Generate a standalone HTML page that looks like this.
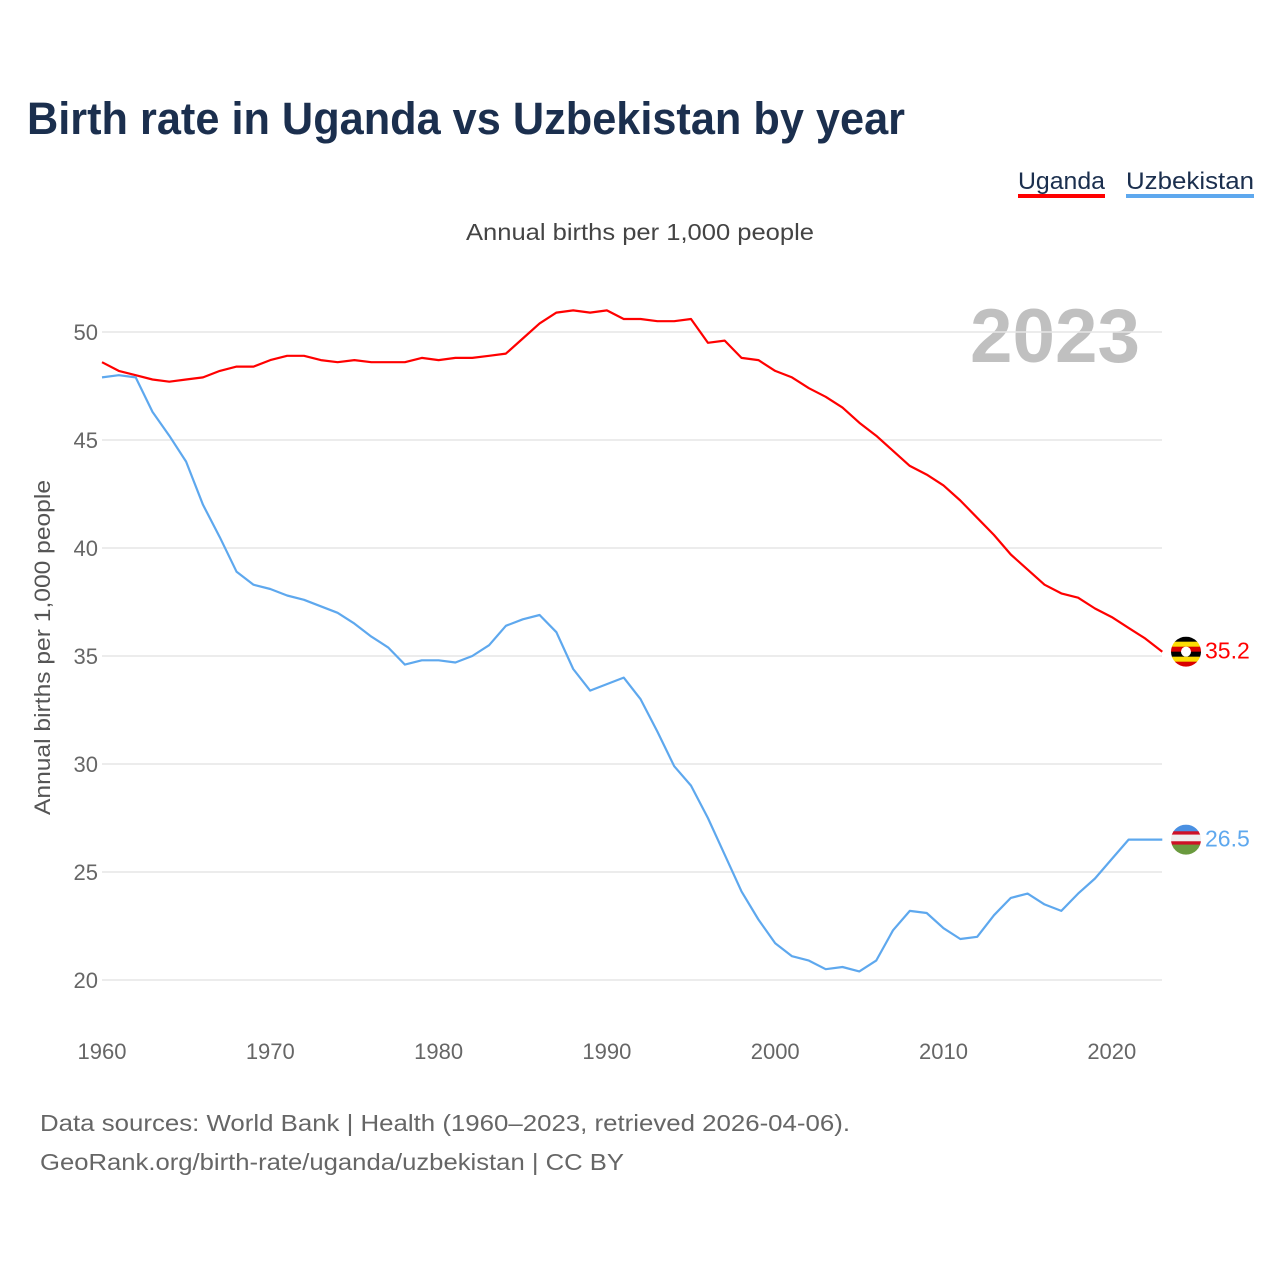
<!DOCTYPE html>
<html><head><meta charset="utf-8"><style>
body{margin:0;background:#fff;width:1280px;height:1280px;overflow:hidden;font-family:"Liberation Sans",sans-serif}
</style></head><body>
<svg id="chart" width="1280" height="1280" xmlns="http://www.w3.org/2000/svg">
<text x="27" y="134" font-size="45" font-weight="bold" fill="#1b2f4e" textLength="878" lengthAdjust="spacingAndGlyphs">Birth rate in Uganda vs Uzbekistan by year</text>
<g>
<text x="1018" y="189" font-size="24" fill="#1b2f4e" textLength="87" lengthAdjust="spacingAndGlyphs">Uganda</text>
<rect x="1018" y="194" width="87" height="4" fill="#ff0000"/>
<text x="1126" y="189" font-size="24" fill="#1b2f4e" textLength="128" lengthAdjust="spacingAndGlyphs">Uzbekistan</text>
<rect x="1126" y="194" width="128" height="4" fill="#5ea8ee"/>
</g>
<text x="466" y="240" font-size="23" fill="#444" textLength="348" lengthAdjust="spacingAndGlyphs">Annual births per 1,000 people</text>
<text x="1140" y="362" font-size="76" font-weight="bold" fill="#c0c0c0" text-anchor="end" textLength="170" lengthAdjust="spacingAndGlyphs">2023</text>
<text transform="translate(50,815) rotate(-90)" font-size="22" fill="#555" textLength="335" lengthAdjust="spacingAndGlyphs">Annual births per 1,000 people</text>
<g id="grid"></g><g id="yt"></g><g id="xt"></g><g id="lines"></g><g id="ends"></g>
<g font-size="23" fill="#666">
<text x="40" y="1131" textLength="810" lengthAdjust="spacingAndGlyphs">Data sources: World Bank | Health (1960–2023, retrieved 2026-04-06).</text>
<text x="40" y="1170" textLength="584" lengthAdjust="spacingAndGlyphs">GeoRank.org/birth-rate/uganda/uzbekistan | CC BY</text>
</g>
</svg>
<script>
const years=[];for(let y=1960;y<=2023;y++)years.push(y);
const uganda=[48.6,48.2,48.0,47.8,47.7,47.8,47.9,48.2,48.4,48.4,48.7,48.9,48.9,48.7,48.6,48.7,48.6,48.6,48.6,48.8,48.7,48.8,48.8,48.9,49.0,49.7,50.4,50.9,51.0,50.9,51.0,50.6,50.6,50.5,50.5,50.6,49.5,49.6,48.8,48.7,48.2,47.9,47.4,47.0,46.5,45.8,45.2,44.5,43.8,43.4,42.9,42.2,41.4,40.6,39.7,39.0,38.3,37.9,37.7,37.2,36.8,36.3,35.8,35.2];
const uzbekistan=[47.9,48.0,47.9,46.3,45.2,44.0,42.0,40.5,38.9,38.3,38.1,37.8,37.6,37.3,37.0,36.5,35.9,35.4,34.6,34.8,34.8,34.7,35.0,35.5,36.4,36.7,36.9,36.1,34.4,33.4,33.7,34.0,33.0,31.5,29.9,29.0,27.5,25.8,24.1,22.8,21.7,21.1,20.9,20.5,20.6,20.4,20.9,22.3,23.2,23.1,22.4,21.9,22.0,23.0,23.8,24.0,23.5,23.2,24.0,24.7,25.6,26.5,26.5,26.5];
const yTicks=[20,25,30,35,40,45,50];
const xTicks=[1960,1970,1980,1990,2000,2010,2020];
const NS="http://www.w3.org/2000/svg";
const X=y=>102+(y-1960)*16.83;
const Y=v=>980-(v-20)*21.6;
function mk(t,a,p){const e=document.createElementNS(NS,t);for(const k in a)e.setAttribute(k,a[k]);p.appendChild(e);return e;}
const grid=document.getElementById('grid'),yt=document.getElementById('yt'),xt=document.getElementById('xt');
yTicks.forEach(v=>{
 const l=mk('line',{x1:102,x2:1162,y1:Y(v),y2:Y(v),stroke:'#e6e6e6','stroke-width':1.5},grid);
 
 
 const t=mk('text',{x:98,y:Y(v)+8,'font-size':22,fill:'#666','text-anchor':'end'},yt);t.textContent=v;
 
 
});
xTicks.forEach(v=>{
 const t=mk('text',{x:X(v),y:1059,'font-size':22,fill:'#666','text-anchor':'middle'},xt);t.textContent=v;
 
 
});
const lines=document.getElementById('lines');
function line(data,color,name){
 const d=data.map((v,i)=>(i?'L':'M')+X(years[i]).toFixed(1)+' '+Y(v).toFixed(1)).join(' ');
 const p=mk('path',{d:d,fill:'none',stroke:color,'stroke-width':2.2,'stroke-linejoin':'round'},lines);
 
 
}
line(uganda,'#ff0000','uganda-line');
line(uzbekistan,'#5ea8ee','uzbekistan-line');
const ends=document.getElementById('ends');
function endLabel(v,color,name,stripes){
 const cy=Y(v),cx=1186;
 const g=mk('g',{},ends);
 
 
 const cp=mk('clipPath',{id:'c'+name},g);mk('circle',{cx:cx,cy:cy,r:15},cp);
 const sg=mk('g',{'clip-path':'url(#c'+name+')'},g);
 const h=30/stripes.length;
 stripes.forEach((c,i)=>mk('rect',{x:cx-15,y:cy-15+i*h,width:30,height:h+0.5,fill:c},sg));
 if(name==='uganda')mk('circle',{cx:cx,cy:cy,r:5,fill:'#fff'},sg);
 const t=mk('text',{x:1205,y:cy+7,'font-size':23,fill:color},g);t.textContent=v.toFixed(1);
}
endLabel(uganda[uganda.length-1],'#ff0000','uganda',['#000','#fcdc04','#d90000','#000','#fcdc04','#d90000']);
endLabel(uzbekistan[uzbekistan.length-1],'#5ea8ee','uzbekistan',['#4a90e2','#4a90e2','#ce1126','#eeeeee','#eeeeee','#ce1126','#6a9a3e','#6a9a3e','#6a9a3e']);
</script>
</body></html>
